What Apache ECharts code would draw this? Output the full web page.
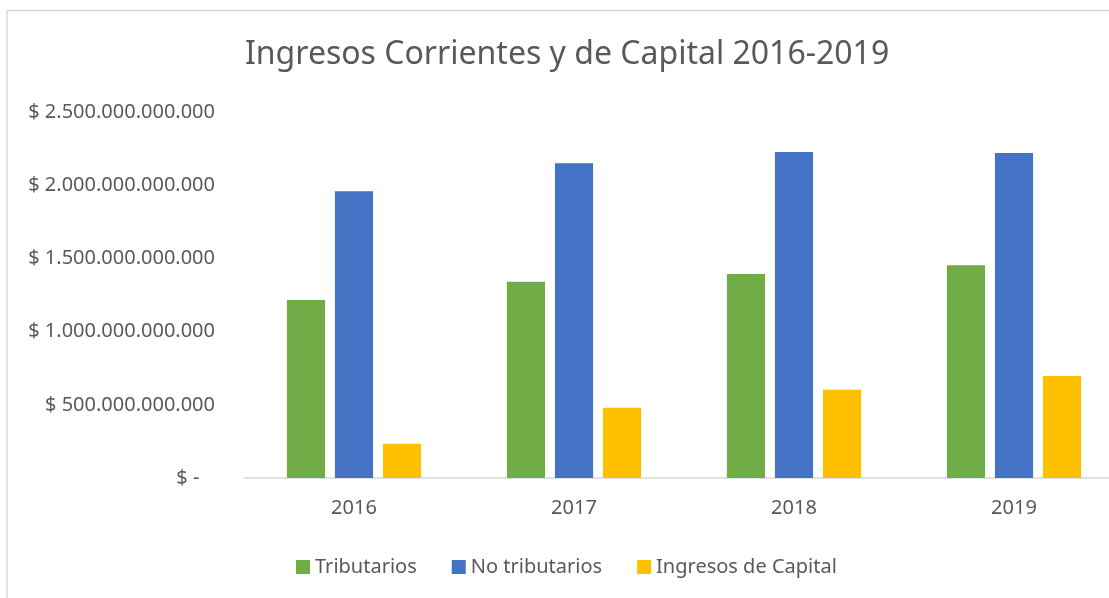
<!DOCTYPE html>
<html>
<head>
<meta charset="utf-8">
<script src="https://cdn.jsdelivr.net/npm/echarts@6/dist/echarts.min.js"></script>
<style>
  html, body { margin: 0; padding: 0; background: #fff; }
  #chart { width: 1109px; height: 598px; }
</style>
</head>
<body>
<div id="chart"></div>
<script>
const years = ['2016', '2017', '2018', '2019']
const tributarios = [1215e9, 1340e9, 1394e9, 1454e9]
const noTributarios = [1959e9, 2150e9, 2227e9, 2220e9]
const ingresosCapital = [234e9, 480e9, 603e9, 696e9]

const textColor = '#595959'
const font = 'Noto Sans'

// 2.500.000.000.000 style
function money(v) {
  if (v === 0) return '$ -   '
  return '$ ' + String(Math.round(v)).replace(/\B(?=(\d{3})+(?!\d))/g, '.')
}

const myChart = echarts.init(document.getElementById('chart'))
const option = {
  animation: false,
  title: {
    text: 'Ingresos Corrientes y de Capital 2016-2019',
    left: 240,
    top: 34,
    textStyle: { fontFamily: font, fontWeight: 'normal', fontSize: 32, color: textColor }
  },
  graphic: [{
    type: 'rect',
    shape: { x: 7, y: 10.5, width: 1200, height: 700 },
    style: { fill: 'none', stroke: '#d9d9d9', lineWidth: 1.5 },
    silent: true
  }],
  legend: {
    bottom: 16,
    left: 291,
    itemWidth: 14,
    itemHeight: 14,
    itemGap: 35,
    icon: 'rect',
    textStyle: { fontFamily: font, fontSize: 20, color: textColor },
    data: ['Tributarios', 'No tributarios', 'Ingresos de Capital']
  },
  grid: {
    left: 244,
    top: 112,
    right: -15,
    height: 366,
    outerBoundsMode: 'none'
  },
  xAxis: {
    type: 'category',
    data: years,
    axisTick: { show: false },
    axisLine: { lineStyle: { color: '#d9d9d9', width: 1.5 } },
    axisLabel: { fontFamily: font, fontSize: 20, color: textColor, margin: 20 }
  },
  yAxis: {
    type: 'value',
    min: 0,
    max: 2500e9,
    interval: 500e9,
    splitLine: { show: false },
    axisLine: { show: false },
    axisTick: { show: false },
    axisLabel: { fontFamily: font, fontSize: 20, color: textColor, margin: 29, formatter: money }
  },
  series: [{
    name: 'Tributarios',
    type: 'bar',
    data: tributarios,
    barGap: '26%',
    barCategoryGap: '39%',
    itemStyle: { color: '#70AD47' }
  }, {
    name: 'No tributarios',
    type: 'bar',
    data: noTributarios,
    itemStyle: { color: '#4472C4' }
  }, {
    name: 'Ingresos de Capital',
    type: 'bar',
    data: ingresosCapital,
    itemStyle: { color: '#FFC000' }
  }]
}
myChart.setOption(option)
</script>
</body>
</html>
